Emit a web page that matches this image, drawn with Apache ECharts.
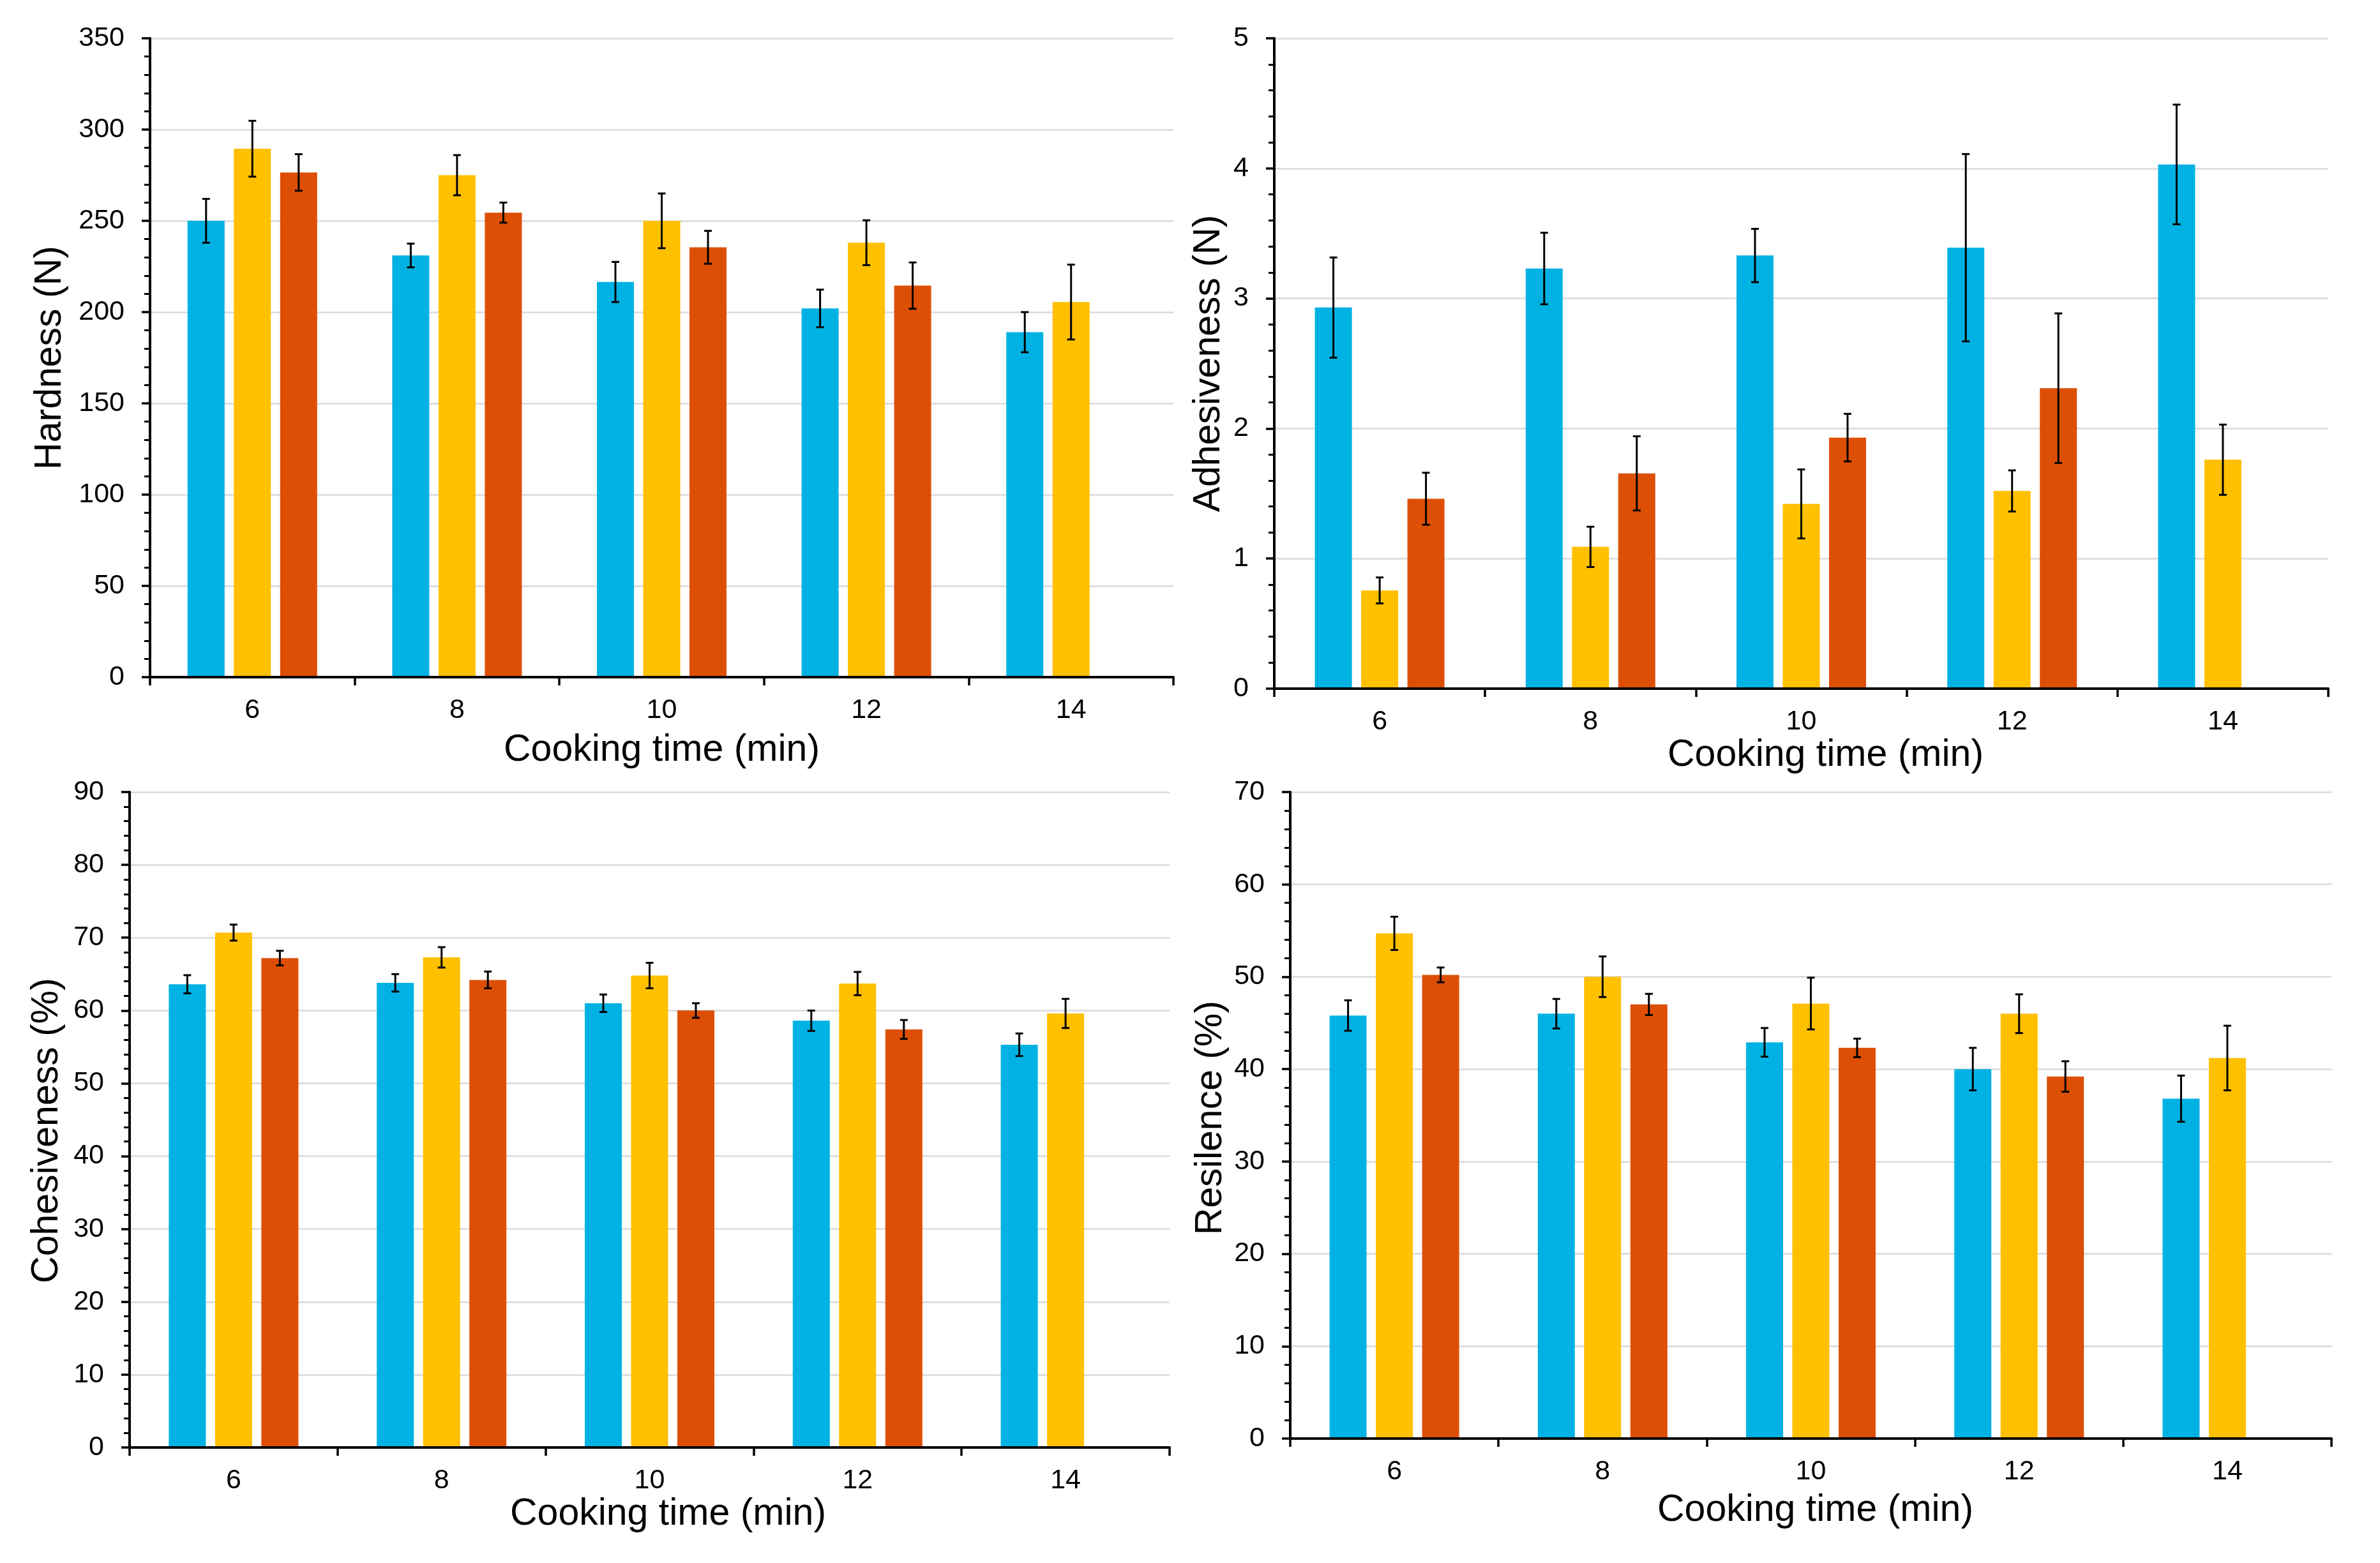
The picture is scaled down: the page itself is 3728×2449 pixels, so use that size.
<!DOCTYPE html>
<html>
<head>
<meta charset="utf-8">
<script src="https://cdn.jsdelivr.net/npm/echarts@6.0.0/dist/echarts.min.js"></script>
<style>
html,body{margin:0;padding:0;background:#fff;}
#chart{width:3728px;height:2449px;}
</style>
</head>
<body>
<div id="chart"></div>
<script>
// ---------- data ----------
const categories = ['6', '8', '10', '12', '14'];

const hardnessBlue   = [250, 231, 216.5, 202, 189];
const hardnessBlueSd = [12, 6.5, 11, 10.3, 11];
const hardnessYellow   = [289.5, 275, 250, 238, 205.5];
const hardnessYellowSd = [15.3, 11, 15, 12.3, 20.5];
const hardnessOrange   = [276.5, 254.5, 235.5, 214.5, null];
const hardnessOrangeSd = [10, 5.5, 9, 12.7, null];

const adhesBlue   = [2.93, 3.23, 3.33, 3.39, 4.03];
const adhesBlueSd = [0.385, 0.275, 0.205, 0.72, 0.46];
const adhesYellow   = [0.755, 1.09, 1.42, 1.52, 1.76];
const adhesYellowSd = [0.1, 0.155, 0.265, 0.158, 0.27];
const adhesOrange   = [1.46, 1.655, 1.93, 2.31, null];
const adhesOrangeSd = [0.2, 0.285, 0.183, 0.575, null];

const cohesBlue   = [63.6, 63.8, 61.0, 58.6, 55.3];
const cohesBlueSd = [1.25, 1.2, 1.2, 1.4, 1.55];
const cohesYellow   = [70.7, 67.3, 64.8, 63.7, 59.6];
const cohesYellowSd = [1.1, 1.4, 1.75, 1.6, 2.0];
const cohesOrange   = [67.2, 64.2, 60.0, 57.4, null];
const cohesOrangeSd = [1.0, 1.15, 1.0, 1.3, null];

const resilBlue   = [45.8, 46.0, 42.9, 40.0, 36.8];
const resilBlueSd = [1.65, 1.6, 1.55, 2.3, 2.5];
const resilYellow   = [54.7, 50.0, 47.1, 46.0, 41.2];
const resilYellowSd = [1.8, 2.2, 2.8, 2.1, 3.5];
const resilOrange   = [50.2, 47.0, 42.3, 39.2, null];
const resilOrangeSd = [0.8, 1.15, 1.0, 1.65, null];

const xTitle = 'Cooking time (min)';
const yTitles = ['Hardness (N)', 'Adhesiveness (N)', 'Cohesiveness (%)', 'Resilence (%)'];
const yMax = [350, 5, 90, 70];
const yInterval = [50, 1, 10, 10];

// ---------- style / layout ----------
const COLORS = ['#00B2E3', '#FFC000', '#DD4F05'];
const FONT = 'Liberation Sans, Arial, sans-serif';
const BAR_W = 58;
const BAR_GAP = 0.25;
const CAP = 6;

const panels = [
  { grid: {left: 235, top: 60, width: 1603, height: 1001}, xGap: 85, yGap: 127, xPad: [0, 0, 0, 0], yPad: [0, 0, 0, 0],
    series: [[hardnessBlue, hardnessBlueSd], [hardnessYellow, hardnessYellowSd], [hardnessOrange, hardnessOrangeSd]] },
  { grid: {left: 1996, top: 60, width: 1651, height: 1019}, xGap: 74, yGap: 73, xPad: [0, 0, 0, 76], yPad: [0, 0, 0, 0],
    series: [[adhesBlue, adhesBlueSd], [adhesYellow, adhesYellowSd], [adhesOrange, adhesOrangeSd]] },
  { grid: {left: 203, top: 1241, width: 1629, height: 1027}, xGap: 64, yGap: 100, xPad: [0, 0, 0, 58], yPad: [0, 34, 0, 0],
    series: [[cohesBlue, cohesBlueSd], [cohesYellow, cohesYellowSd], [cohesOrange, cohesOrangeSd]] },
  { grid: {left: 2021, top: 1241, width: 1631, height: 1013}, xGap: 83, yGap: 95, xPad: [0, 0, 0, 14], yPad: [0, 8, 0, 0],
    series: [[resilBlue, resilBlueSd], [resilYellow, resilYellowSd], [resilOrange, resilOrangeSd]] }
];

function makeErrorRender(slot) {
  return function (params, api) {
    const xi = api.value(0);
    const v = api.value(1);
    const e = api.value(2);
    if (v == null || isNaN(v)) return null;
    const hi = api.coord([xi, v + e]);
    const lo = api.coord([xi, v - e]);
    const off = (slot - 1) * (BAR_W + BAR_W * BAR_GAP);
    const x = hi[0] + off;
    const style = {stroke: '#000', lineWidth: 3};
    return {
      type: 'group',
      children: [
        {type: 'line', shape: {x1: x, y1: hi[1], x2: x, y2: lo[1]}, style: style},
        {type: 'line', shape: {x1: x - CAP, y1: hi[1], x2: x + CAP, y2: hi[1]}, style: style},
        {type: 'line', shape: {x1: x - CAP, y1: lo[1], x2: x + CAP, y2: lo[1]}, style: style}
      ]
    };
  };
}

const grids = [], xAxes = [], yAxes = [], series = [];
panels.forEach(function (p, i) {
  grids.push(Object.assign({containLabel: false, outerBoundsMode: 'none'}, p.grid));
  xAxes.push({
    type: 'category', gridIndex: i, data: categories, z: 10,
    boundaryGap: true,
    axisLine: {show: true, lineStyle: {color: '#000', width: 4}},
    axisTick: {show: true, interval: 0, alignWithLabel: false, length: 13, lineStyle: {color: '#000', width: 3.5}},
    axisLabel: {color: '#000', fontSize: 43, fontFamily: FONT, margin: 31, interval: 0},
    splitLine: {show: false},
    name: xTitle, nameLocation: 'middle', nameGap: p.xGap,
    nameTextStyle: {color: '#000', fontSize: 59, fontFamily: FONT, padding: p.xPad}
  });
  yAxes.push({
    type: 'value', gridIndex: i, min: 0, max: yMax[i], interval: yInterval[i],
    axisLine: {show: true, lineStyle: {color: '#000', width: 4}},
    axisTick: {show: true, length: 13, lineStyle: {color: '#000', width: 3.5}},
    minorTick: {show: true, splitNumber: 5, length: 9, lineStyle: {color: '#000', width: 3}},
    axisLabel: {color: '#000', fontSize: 43, fontFamily: FONT, margin: 40},
    splitLine: {show: true, lineStyle: {color: '#D9D9D9', width: 2.5}},
    name: yTitles[i], nameLocation: 'middle', nameGap: p.yGap,
    nameTextStyle: {color: '#000', fontSize: 59, fontFamily: FONT, padding: p.yPad}
  });
  p.series.forEach(function (s, k) {
    series.push({
      type: 'bar', xAxisIndex: i, yAxisIndex: i,
      data: s[0], barWidth: BAR_W, barGap: (BAR_GAP * 100) + '%',
      itemStyle: {color: COLORS[k]}
    });
  });
  p.series.forEach(function (s, k) {
    const d = [];
    s[0].forEach(function (v, j) { if (v != null) d.push([j, v, s[1][j]]); });
    series.push({
      type: 'custom', xAxisIndex: i, yAxisIndex: i, z: 5,
      renderItem: makeErrorRender(k),
      encode: {x: 0, y: 1},
      data: d
    });
  });
});

const chart = echarts.init(document.getElementById('chart'), null, {renderer: 'canvas'});
chart.setOption({
  animation: false,
  backgroundColor: '#fff',
  grid: grids,
  xAxis: xAxes,
  yAxis: yAxes,
  series: series
});
</script>
</body>
</html>
